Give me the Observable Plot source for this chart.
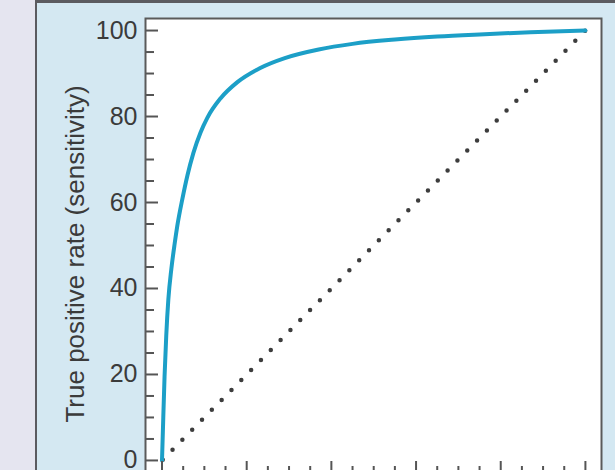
<!DOCTYPE html>
<html><head><meta charset="utf-8">
<script src="https://cdn.jsdelivr.net/npm/d3@7"></script>
<script src="https://cdn.jsdelivr.net/npm/@observablehq/plot@0.6"></script>
<style>
html,body{margin:0;padding:0;width:615px;height:470px;overflow:hidden;background:#e5e5f0;}
#panel{position:absolute;left:35px;top:0;width:580px;height:470px;background:#d4e8f2;border-left:2px solid #5b5b60;border-top:3px solid #5b5b60;box-sizing:border-box;}
#chart{position:absolute;left:0;top:0;}
</style></head><body><div id="panel"></div><div id="chart"></div>
<script>
const fpr = [0, 0.3, 0.6, 1.0, 1.5, 2.2, 3.0, 3.6, 4.8, 6.0, 7.4, 9.1, 10.7, 13.8, 17.8, 23.2, 29, 37, 45, 55, 65, 75, 87, 100];
const tpr = [0, 10, 19.5, 29, 37.5, 44.5, 50.5, 54.5, 60.8, 66.3, 71.5, 76.3, 79.7, 84.2, 88, 91.3, 93.6, 95.6, 96.9, 97.9, 98.6, 99.1, 99.6, 100];
const diagX = [0, 100];
const diagY = [0, 100];
const yMajorTicks = [0, 20, 40, 60, 80, 100];
const yMinorTicks = [5, 10, 15, 25, 30, 35, 45, 50, 55, 65, 70, 75, 85, 90, 95];
const xMajorTicks = [0, 20, 40, 60, 80, 100];
const xMinorTicks = [5, 10, 15, 25, 30, 35, 45, 50, 55, 65, 70, 75, 85, 90, 95];
const yLabel = "True positive rate (sensitivity)";

const roc = fpr.map((x, i) => ({x, y: tpr[i]}));
const diag = diagX.map((x, i) => ({x, y: diagY[i]}));
const ink = "#3b3b3b";

const chart = Plot.plot({
  width: 615, height: 478,
  marginLeft: 145, marginRight: 14, marginTop: 18, marginBottom: 3,
  style: {background: "transparent", fontFamily: "'Liberation Sans', Arial, sans-serif", color: ink},
  x: {domain: [-3.9, 103.8]},
  y: {domain: [-3.5, 102.8]},
  marks: [
    Plot.frame({fill: "white", stroke: "none"}),
    Plot.line(diag, {x: "x", y: "y", stroke: "#3d3d3d", strokeWidth: 4.5, strokeDasharray: "0 14", strokeLinecap: "round", strokeDashoffset: -1}),
    Plot.line(roc, {x: "x", y: "y", stroke: "#1c9fc7", strokeWidth: 4, curve: "monotone-x"}),
    Plot.axisY(yMajorTicks, {tickSize: -13, tickFormat: () => "", label: null, stroke: "#555", strokeWidth: 2}),
    Plot.axisY(yMinorTicks, {tickSize: -9, tickFormat: () => "", label: null, stroke: "#555", strokeWidth: 2}),
    Plot.axisY(yMajorTicks, {tickSize: 0, tickPadding: 8, fontSize: 25, label: null, fill: ink}),
    Plot.axisX(xMajorTicks, {tickSize: -14, tickFormat: () => "", label: null, stroke: "#555", strokeWidth: 2}),
    Plot.axisX(xMinorTicks, {tickSize: -9, tickFormat: () => "", label: null, stroke: "#555", strokeWidth: 2}),
    Plot.text([yLabel], {text: d => d, frameAnchor: "left", dx: -70, dy: 7, rotate: -90, fontSize: 26, textAnchor: "middle", lineAnchor: "middle", fill: ink}),
    Plot.frame({stroke: "#5a5a5a", strokeWidth: 2})
  ]
});
document.getElementById("chart").appendChild(chart);
</script>
</body></html>
